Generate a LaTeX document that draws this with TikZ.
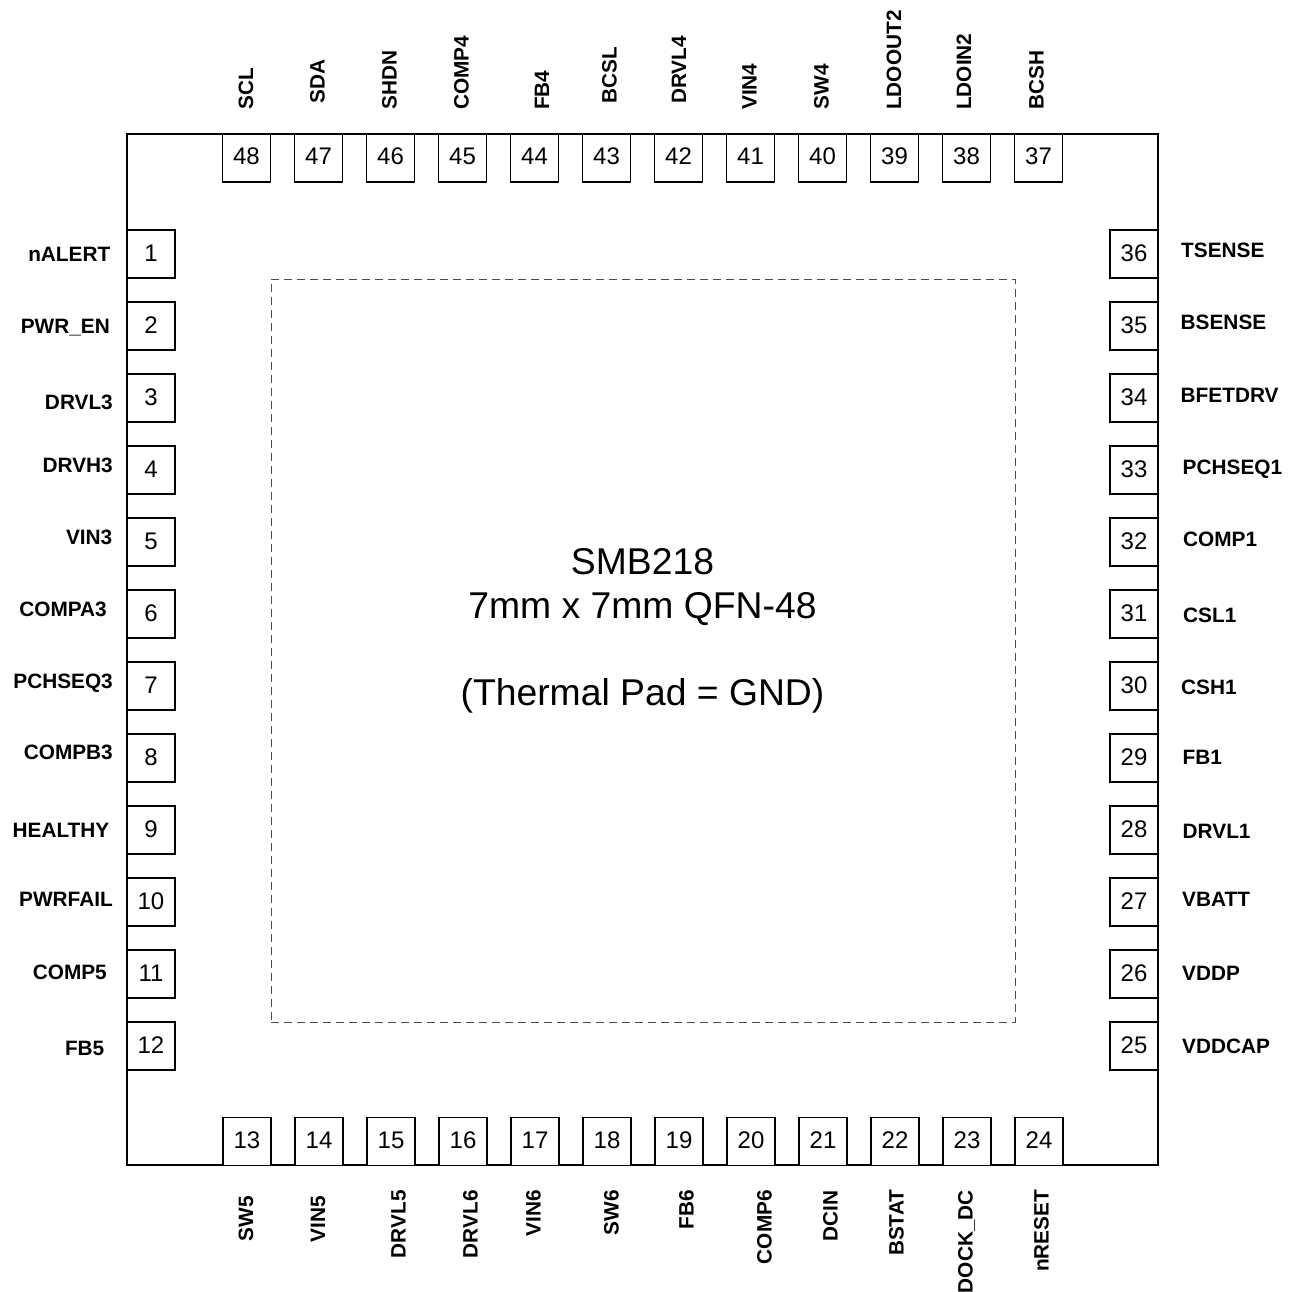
\documentclass[tikz,border=0pt]{standalone}
\usepackage{fontspec}
\setmainfont{Liberation Sans}
\tikzset{
  pkg/.style={draw=black,line width=1.5pt,fill=white,inner sep=0pt},
  pin/.style={draw=black,line width=1.1pt,fill=white,minimum size=48pt,inner sep=0pt,text height=14pt,text depth=0pt,font=\fontsize{24pt}{28pt}\selectfont},
  thermal/.style={draw=black!70,line width=1pt,dash pattern=on 8pt off 5pt,inner sep=0pt},
  title/.style={font=\fontsize{37.3pt}{43.5pt}\selectfont,align=center,inner sep=0pt},
  sig/.style={font=\fontsize{20.8pt}{24pt}\selectfont\bfseries,text height=15pt,text depth=0pt,inner sep=0pt}
}
\begin{document}
\begin{tikzpicture}[x=1pt,y=-1pt]
\useasboundingbox (0,0) rectangle (1292,1292);
\fill[white] (0,0) rectangle (1292,1292);
\node[pkg,minimum width=1031pt,minimum height=1031pt] (package) at (642.5,649.5) {};
\node[thermal,minimum width=744pt,minimum height=743pt] (pad) at (643,650.5) {};
\node[title] (chip) at (642.5,631) {SMB218\\7mm x 7mm QFN-48\\[43.5pt](Thermal Pad = GND)};
% left side
\foreach \n/\t/\r/\y in {1/nALERT/110.5/254,2/PWR\_EN/110/326,3/DRVL3/113/402,4/DRVH3/113/465,5/VIN3/112.5/536.5,6/COMPA3/107/609,7/PCHSEQ3/113/681,8/COMPB3/113/752,9/HEALTHY/109.5/830,10/PWRFAIL/113/899,11/COMP5/107/972,12/FB5/104.5/1048}{
  \node[pin] (p\n) at (151,{254+72*(\n-1)}) {\n};
  \node[sig,anchor=east] (s\n) at (\r,\y) {\t};
}
% bottom side
\foreach \n/\t/\x/\y in {13/SW5/245.5/1196,14/VIN5/317.5/1196,15/DRVL5/398/1190,16/DRVL6/470/1190,17/VIN6/533/1190,18/SW6/611/1190,19/FB6/686/1190,20/COMP6/764/1190,21/DCIN/830/1190,22/BSTAT/896/1189.5,23/DOCK\_DC/965/1190,24/nRESET/1041/1189.5}{
  \node[pin] (p\n) at ({247+72*(\n-13)},1141.5) {\n};
  \node[sig,rotate=90,anchor=east] (s\n) at (\x,\y) {\t};
}
% right side
\foreach \n/\t/\l/\y in {25/VDDCAP/1182/1046,26/VDDP/1182/973,27/VBATT/1182/899,28/DRVL1/1182.5/831,29/FB1/1182.5/757,30/CSH1/1181/687,31/CSL1/1183/615,32/COMP1/1183/539,33/PCHSEQ1/1182.5/467,34/BFETDRV/1180.5/395,35/BSENSE/1180.5/322,36/TSENSE/1181/250}{
  \node[pin] (p\n) at (1134,{1046-72*(\n-25)}) {\n};
  \node[sig,anchor=west] (s\n) at (\l,\y) {\t};
}
% top side
\foreach \n/\t/\x/\y in {37/BCSH/1036/110,38/LDOIN2/963.5/110,39/LDOOUT2/893.5/110,40/SW4/821/109.5,41/VIN4/749/110,42/DRVL4/678.5/104,43/BCSL/609/104,44/FB4/541.5/110,45/COMP4/461/110,46/SHDN/389/109.5,47/SDA/317/103.5,48/SCL/245.5/109.5}{
  \node[pin] (p\n) at ({1038.5-72*(\n-37)},158) {\n};
  \node[sig,rotate=90,anchor=west] (s\n) at (\x,\y) {\t};
}
\end{tikzpicture}
\end{document}
